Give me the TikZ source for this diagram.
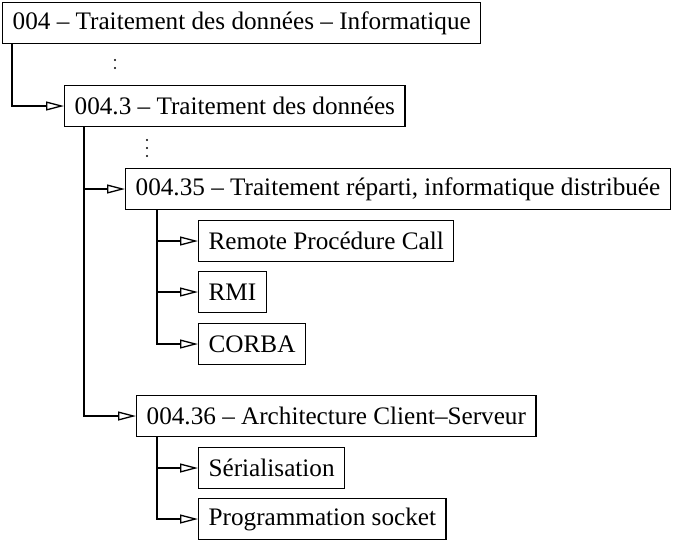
\documentclass[tikz,border=0pt]{standalone}
\usepackage{fontspec}
\setmainfont{Liberation Serif}
\usetikzlibrary{arrows.meta}
\begin{document}
\begin{tikzpicture}[x=1pt,y=-1pt,
  box/.style={draw, line width=1.3pt, minimum height=41pt, inner xsep=10pt, inner ysep=0pt, anchor=west, font=\fontsize{25.2}{29}\selectfont},
  arr/.style={line width=1.3pt, -{Triangle[open,length=18pt,width=9pt,line width=1.3pt]}},
  dot/.style={fill=black}]
\useasboundingbox (0,0) rectangle (680,542);
\node[box] (b1) at (2,23) {004 – Traitement des données – Informatique};
\node[box] (b2) at (64,106) {004.3 – Traitement des données};
\node[box] (b3) at (125,189) {004.35 – Traitement réparti, informatique distribuée};
\node[box] (rpc) at (198,241) {Remote Procédure Call};
\node[box] (rmi) at (198,292) {RMI};
\node[box] (corba) at (198,344) {CORBA};
\node[box] (cs) at (136,416) {004.36 – Architecture Client–Serveur};
\node[box] (ser) at (198,468) {Sérialisation};
\node[box] (prog) at (198,519) {Programmation socket};
\draw[arr] ([xshift=10pt]b1.south west) |- (b2.west);
\draw[arr] ([xshift=20pt]b2.south west) |- (b3.west);
\draw[arr] ([xshift=20pt]b2.south west) |- (cs.west);
\draw[arr] ([xshift=32pt]b3.south west) |- (rpc.west);
\draw[arr] ([xshift=32pt]b3.south west) |- (rmi.west);
\draw[arr] ([xshift=32pt]b3.south west) |- (corba.west);
\draw[arr] ([xshift=21pt]cs.south west) |- (ser.west);
\draw[arr] ([xshift=21pt]cs.south west) |- (prog.west);
\fill[dot] (115,60) circle (1.1pt) (115,68) circle (1.1pt);
\fill[dot] (147,140) circle (1.1pt) (147,148) circle (1.1pt) (147,156) circle (1.1pt);
\end{tikzpicture}
\end{document}
